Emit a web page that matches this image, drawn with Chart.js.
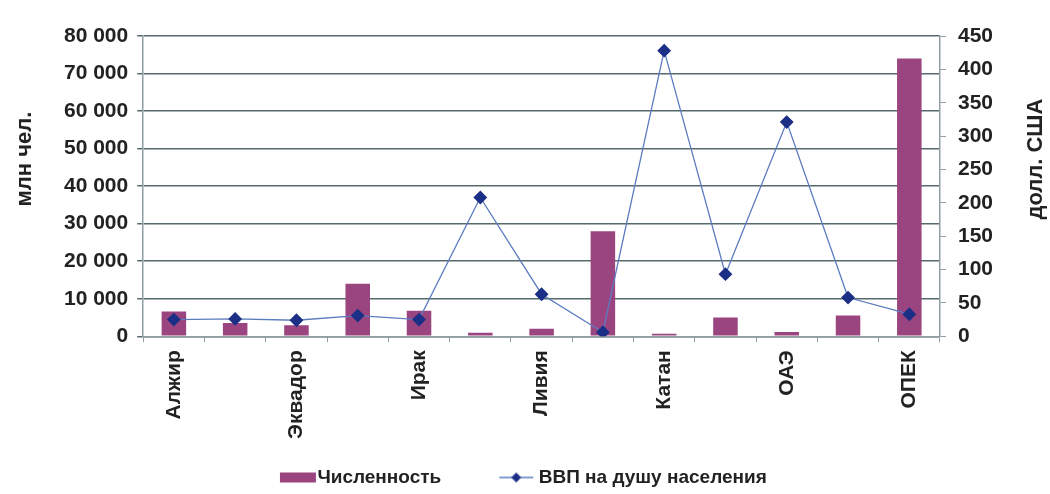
<!DOCTYPE html>
<html>
<head>
<meta charset="utf-8">
<script src="https://cdn.jsdelivr.net/npm/chart.js@4"></script>
<style>
  html, body { margin: 0; padding: 0; background: #fff; }
  #wrap { width: 1050px; height: 494px; }
</style>
</head>
<body>
<div id="wrap"><canvas id="chartOpec"></canvas></div>
<script>
// Данные
const categories = ['Алжир', 'Ангола', 'Эквадор', 'Иран', 'Ирак', 'Кувейт', 'Ливия',
  'Нигерия', 'Катан', 'Саудовская Аравия', 'ОАЭ', 'Венесуэла', 'ОПЕК'];
const chislennost = [6600, 3500, 2900, 14000, 6800, 900, 2000, 28000, 700, 5000, 1100, 5500, 74000];
const vvpNaDushu = [25, 26, 24, 31, 25, 208, 63, 6, 428, 93, 321, 58, 33];
const leftTicks = [0, 10000, 20000, 30000, 40000, 50000, 60000, 70000, 80000];
const rightTicks = [0, 50, 100, 150, 200, 250, 300, 350, 400, 450];

const BAR_COLOR = '#9b4580';
const LINE_COLOR = '#5b7bc0';
const MARKER_COLOR = '#1c2f86';
const GRID_COLOR = '#56696d';
const AXIS_COLOR = '#8f9ea1';
const FONT = "'Liberation Sans', Arial, sans-serif";

// картинки для легенды (значок прижат к правому краю, к тексту)
const LEG_W = 96;
function legendBar() {
  const c = document.createElement('canvas');
  c.width = LEG_W; c.height = 12;
  const g = c.getContext('2d');
  g.fillStyle = BAR_COLOR;
  g.fillRect(LEG_W - 37, 1, 36, 10);
  return c;
}
function legendLine() {
  const c = document.createElement('canvas');
  c.width = LEG_W; c.height = 14;
  const g = c.getContext('2d');
  g.strokeStyle = LINE_COLOR;
  g.lineWidth = 1.3;
  g.beginPath(); g.moveTo(LEG_W - 39, 7); g.lineTo(LEG_W - 5, 7); g.stroke();
  g.fillStyle = MARKER_COLOR;
  const cx = LEG_W - 22;
  g.beginPath(); g.moveTo(cx, 2); g.lineTo(cx + 5, 7); g.lineTo(cx, 12); g.lineTo(cx - 5, 7); g.closePath(); g.fill();
  return c;
}

// подписи осей
const axisTitles = {
  id: 'axisTitles',
  afterDraw(chart) {
    const ctx = chart.ctx;
    const a = chart.chartArea;
    const y = a.top + (a.bottom - a.top) * 0.41;
    [['млн чел.', 25], ['долл. США', 1036]].forEach(([txt, x]) => {
      ctx.save();
      ctx.font = 'bold 22px ' + FONT;
      ctx.fillStyle = '#222';
      ctx.textAlign = 'center';
      ctx.textBaseline = 'middle';
      ctx.translate(x, y);
      ctx.rotate(-Math.PI / 2);
      ctx.fillText(txt, 0, 0);
      ctx.restore();
    });
  }
};

const fmt = v => String(v).replace(/\B(?=(\d{3})+(?!\d))/g, ' ');

const ctx = document.getElementById('chartOpec');
new Chart(ctx, {
  data: {
    labels: categories,
    datasets: [
      {
        type: 'line',
        label: 'ВВП на душу населения',
        data: vvpNaDushu,
        yAxisID: 'y1',
        borderColor: LINE_COLOR,
        borderWidth: 1.3,
        pointStyle: 'rectRot',
        pointRadius: 6,
        pointBackgroundColor: MARKER_COLOR,
        pointBorderColor: MARKER_COLOR,
        tension: 0,
        order: 0
      },
      {
        type: 'bar',
        label: 'Численность',
        data: chislennost,
        yAxisID: 'y',
        backgroundColor: BAR_COLOR,
        categoryPercentage: 1,
        barPercentage: 0.4,
        order: 1
      }
    ]
  },
  options: {
    responsive: true,
    maintainAspectRatio: false,
    animation: false,
    layout: { padding: { left: 55, right: 45, top: 36, bottom: -3 } },
    plugins: {
      tooltip: { enabled: false },
      legend: {
        position: 'bottom',
        reverse: true,
        labels: {
          usePointStyle: true,
          pointStyleWidth: 78,
          padding: 10,
          color: '#222',
          font: { family: FONT, size: 19, weight: 'bold' },
          generateLabels(chart) {
            const items = Chart.defaults.plugins.legend.labels.generateLabels(chart);
            items.forEach(it => {
              if (it.datasetIndex === 1) {
                it.pointStyle = legendBar();
              } else {
                it.pointStyle = legendLine();
                // хвост из пробелов смещает легенду влево, как в оригинале
                it.text = it.text + ' '.repeat(12);
              }
            });
            return items;
          }
        }
      }
    },
    scales: {
      x: {
        offset: true,
        afterFit: axis => { axis.height += 11; },
        grid: { display: true, drawOnChartArea: false, offset: true, color: AXIS_COLOR, tickLength: 6 },
        border: { color: AXIS_COLOR, width: 1.5 },
        ticks: {
          autoSkip: false,
          minRotation: 90,
          maxRotation: 90,
          color: '#222',
          padding: 8,
          font: { family: FONT, size: 21, weight: 'bold' },
          callback: function(value, index) {
            return index % 2 === 0 ? this.getLabelForValue(value) : '';
          }
        }
      },
      y: {
        position: 'left',
        min: 0,
        max: 80000,
        afterBuildTicks: axis => { axis.ticks = leftTicks.map(v => ({ value: v })); },
        grid: { color: GRID_COLOR, lineWidth: 1.5, tickLength: 6 },
        border: { color: AXIS_COLOR, width: 1.5 },
        ticks: {
          color: '#222',
          padding: 9,
          font: { family: FONT, size: 21, weight: 'bold' },
          callback: v => fmt(v)
        }
      },
      y1: {
        position: 'right',
        min: 0,
        max: 450,
        afterBuildTicks: axis => { axis.ticks = rightTicks.map(v => ({ value: v })); },
        grid: { drawOnChartArea: false, color: AXIS_COLOR, tickLength: 6 },
        border: { color: AXIS_COLOR, width: 1.5 },
        ticks: {
          color: '#222',
          padding: 12,
          font: { family: FONT, size: 21, weight: 'bold' }
        }
      }
    }
  },
  plugins: [axisTitles]
});
</script>
</body>
</html>
